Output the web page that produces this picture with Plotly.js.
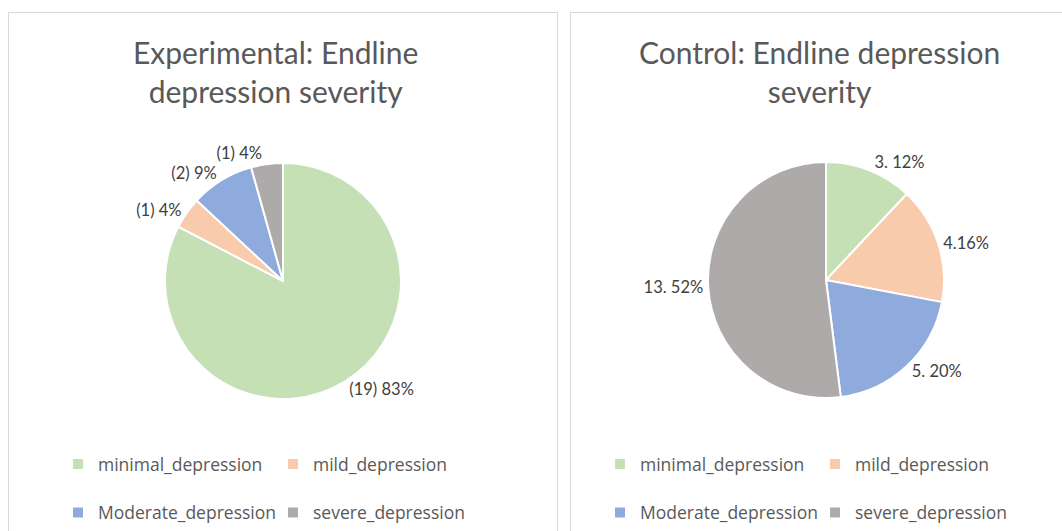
<!DOCTYPE html>
<html>
<head>
<meta charset="utf-8">
<script src="https://cdn.plot.ly/plotly-3.0.1.min.js"></script>
<style>
html,body{margin:0;padding:0;background:#fff;}
#chart{width:1062px;height:531px;}
/* the original chart has no leader lines on its data labels */
#chart .pielayer path.textline{stroke-opacity:0 !important;}
</style>
</head>
<body>
<div id="chart"></div>
<script>
// ---- data ----
const categories = ['minimal_depression', 'mild_depression', 'Moderate_depression', 'severe_depression'];
const experimentalCounts = [19, 1, 2, 1];
const controlCounts = [3, 4, 5, 13];
const experimentalLabelText = ['(19) 83%', '(1) 4%', '(2) 9%', '(1) 4%'];
const controlLabelText = ['3. 12%', '4.16%', '5. 20%', '13. 52%'];
const sliceColors = ['#C5E0B4', '#F8CBAD', '#8FAADC', '#AEAAAA'];
const titles = ['Experimental: Endline<br>depression severity', 'Control: Endline depression<br>severity'];

// ---- geometry helpers (pixel -> paper) ----
const W = 1062, H = 531, ML = 120, MR = 100;
const PW = W - ML - MR;
const px2x = p => (p - ML) / PW;
const px2y = p => 1 - p / H;

const FONT = 'Lato, "Open Sans", sans-serif';
const LEGEND_FONT = '"Open Sans", Lato, sans-serif';

// legend rows are spaced like the original by giving each entry a blank second line
const legendLabels = categories.map(c => c + '<br> ');

function pie(values, text, cx, cy, r, legendId, group) {
  return {
    type: 'pie',
    labels: legendLabels,
    values: values,
    text: text,
    textinfo: 'text',
    textposition: 'outside',
    textfont: {family: FONT, size: 16.5, color: '#404040'},
    marker: {colors: sliceColors, line: {color: '#ffffff', width: 2}},
    sort: false,
    direction: 'clockwise',
    rotation: 0,
    hoverinfo: 'value+percent',
    legend: legendId,
    legendgroup: group,
    domain: {x: [px2x(cx - r), px2x(cx + r)], y: [px2y(cy + r), px2y(cy - r)]}
  };
}

const data = [
  pie(experimentalCounts, experimentalLabelText, 283, 281, 118, 'legend', 'experimental'),
  pie(controlCounts, controlLabelText, 826, 280, 118, 'legend2', 'control')
];

const legendBase = {
  orientation: 'h',
  traceorder: 'normal',
  valign: 'top',
  font: {family: LEGEND_FONT, size: 17.5, color: '#595959'},
  bgcolor: 'rgba(0,0,0,0)',
  entrywidth: 170,
  entrywidthmode: 'pixels',
  yanchor: 'top',
  y: px2y(446)
};

const layout = {
  width: W, height: H,
  margin: {l: ML, r: MR, t: 0, b: 0, autoexpand: false},
  paper_bgcolor: '#ffffff',
  plot_bgcolor: '#ffffff',
  font: {family: FONT},
  showlegend: true,
  legend: Object.assign({}, legendBase, {x: px2x(58), xanchor: 'left'}),
  legend2: Object.assign({}, legendBase, {x: px2x(1030), xanchor: 'right'}),
  shapes: [
    {type: 'rect', xref: 'paper', yref: 'paper', x0: px2x(8.5), x1: px2x(557.5), y0: px2y(540), y1: px2y(12.5),
     line: {color: '#D9D9D9', width: 1}, fillcolor: 'rgba(0,0,0,0)', layer: 'below'},
    {type: 'rect', xref: 'paper', yref: 'paper', x0: px2x(570.5), x1: px2x(1070), y0: px2y(540), y1: px2y(12.5),
     line: {color: '#D9D9D9', width: 1}, fillcolor: 'rgba(0,0,0,0)', layer: 'below'}
  ],
  annotations: [
    {text: titles[0], xref: 'paper', yref: 'paper', x: px2x(275), y: px2y(71), xanchor: 'center', yanchor: 'middle',
     showarrow: false, align: 'center', font: {family: FONT, size: 30, color: '#595959'}},
    {text: titles[1], xref: 'paper', yref: 'paper', x: px2x(819), y: px2y(71), xanchor: 'center', yanchor: 'middle',
     showarrow: false, align: 'center', font: {family: FONT, size: 30, color: '#595959'}}
  ]
};

Plotly.newPlot('chart', data, layout, {displayModeBar: false, responsive: false});
</script>
</body>
</html>
